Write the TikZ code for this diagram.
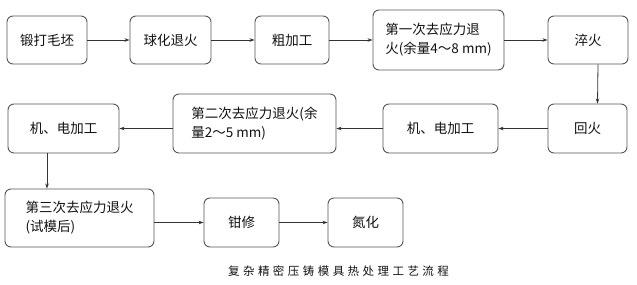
\documentclass[tikz,border=0pt]{standalone}
\usepackage{fontspec}
\usetikzlibrary{arrows.meta}
\setmainfont{Noto Sans CJK SC}
\newfontfamily\titlefont[LetterSpace=30]{Noto Sans CJK SC}
\definecolor{boxgray}{HTML}{555555}
\definecolor{linegray}{HTML}{333333}
\definecolor{txtdark}{HTML}{111111}

\begin{document}
\begin{tikzpicture}[>={Stealth[length=5pt,width=3.5pt]},x=1pt,y=1pt,
  stepbox/.style={draw=boxgray,line width=0.9pt,rounded corners=6pt,
    align=left,text=txtdark,inner sep=0pt,
    font=\fontsize{13.5}{19}\selectfont},
  flow/.style={linegray,line width=0.8pt,->}]

  \useasboundingbox (0,0) rectangle (637,284);

  % --- first row ---
  \node[stepbox,minimum width=80,minimum height=48]  (duda)   at (47,244)    {锻打毛坯};
  \node[stepbox,minimum width=81,minimum height=48]  (qiuhua) at (170.5,244) {球化退火};
  \node[stepbox,minimum width=74,minimum height=48]  (cujg)   at (292,244)   {粗加工};
  \node[stepbox,minimum width=131,minimum height=60] (tuihA)  at (438.5,244)
        {第一次去应力退\\火(余量4～8 mm)};
  \node[stepbox,minimum width=80,minimum height=48]  (cuihuo) at (588,244)   {淬火};

  % --- second row ---
  \node[stepbox,minimum width=79,minimum height=49]  (huihuo) at (587.5,155.5) {回火};
  \node[stepbox,minimum width=115,minimum height=49] (jidB)   at (440.5,155.5) {机、电加工};
  \node[stepbox,minimum width=163,minimum height=59] (tuihB)  at (254.5,160.5)
        {第二次去应力退火(余\\量2～5 mm)};
  \node[stepbox,minimum width=111,minimum height=49] (jidA)   at (63.5,155.5)  {机、电加工};

  % --- third row ---
  \node[stepbox,minimum width=149,minimum height=58] (tuihC)  at (79.5,66)
        {第三次去应力退火\\(试模后)};
  \node[stepbox,minimum width=75,minimum height=49]  (qianxiu) at (241.5,61.5) {钳修};
  \node[stepbox,minimum width=75,minimum height=49]  (danhua)  at (365.5,61.5) {氮化};

  % --- connectors ---
  \draw[flow] (duda) -- (qiuhua);
  \draw[flow] (qiuhua) -- (cujg);
  \draw[flow] (cujg) -- (tuihA);
  \draw[flow] (tuihA) -- (cuihuo);
  \draw[flow] ([xshift=10pt]cuihuo.south) -- ([xshift=10pt]huihuo.north);
  \draw[flow] (huihuo) -- (jidB);
  \draw[flow] (jidB.west) -- (jidB.west -| tuihB.east);
  \draw[flow] (jidA.east -| tuihB.west) -- (jidA.east);
  \draw[flow] ([xshift=-16.5pt]jidA.south) -- ([xshift=-16.5pt]jidA.south |- tuihC.north);
  \draw[flow] (qianxiu.west -| tuihC.east) -- (qianxiu.west);
  \draw[flow] (qianxiu) -- (danhua);

  % --- caption ---
  \node[text=txtdark,font=\titlefont\fontsize{11.5}{13}\selectfont] (title) at (338.5,13)
        {复杂精密压铸模具热处理工艺流程};

\end{tikzpicture}
\end{document}
